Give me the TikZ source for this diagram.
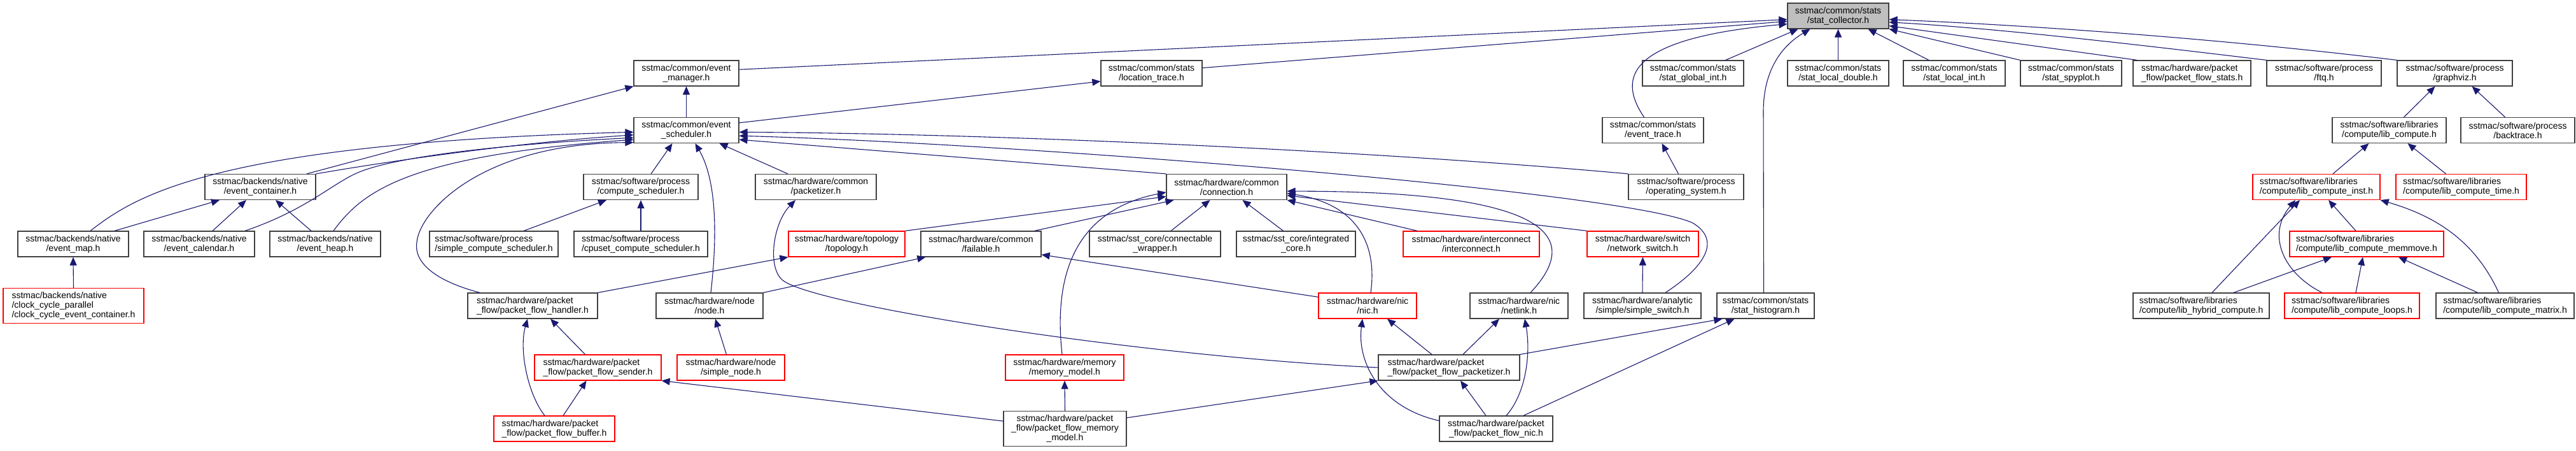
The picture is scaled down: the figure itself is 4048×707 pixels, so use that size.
\documentclass[tikz,border=0pt]{standalone}
\usepackage{fontspec}
\setmainfont{Liberation Sans}
\usetikzlibrary{arrows.meta, calc}
\definecolor{inkline}{HTML}{191970}
\definecolor{boxrule}{HTML}{404040}
\definecolor{boxred}{HTML}{FF0000}
\definecolor{boxgray}{HTML}{BFBFBF}
\tikzset{
  box/.style={
    draw=boxrule, line width=1.2pt, fill=white, inner sep=0pt,
    minimum height=40pt, align=center, text=black,
    font=\fontsize{14}{15}\selectfont,
  },
  boxl/.style={box, align=left},
  boxr/.style={box, draw=boxred},
  boxrl/.style={boxr, align=left},
  boxg/.style={box, fill=boxgray},
  %
  incl/.style={draw=inkline, line width=1.1pt, -{Triangle[length=13pt, width=11pt]}},
}
\begin{document}
\begin{tikzpicture}[x=1pt, y=-1pt]

  \path[use as bounding box, fill=white] (0,0) rectangle (4048,707);

  \def\rA{25}     % root
  \def\rB{115}
  \def\rC{204.5}
  \def\rD{293.5}
  \def\rE{383}
  \def\rF{480}
  \def\rG{577}
  \def\rH{673}

  % --- rows 0 to 2 --------------------------------------------------------
  \node[boxg, minimum width=159pt] (sc) at (2888.5,\rA) {sstmac/common/stats\\/stat\_collector.h};

  \node[box,  minimum width=165pt] (evmgr)    at (1078.5,\rB) {sstmac/common/event\\\_manager.h};
  \node[box,  minimum width=159pt] (loctrace) at (1809.5,\rB) {sstmac/common/stats\\/location\_trace.h};
  \node[box,  minimum width=159pt] (glint)    at (2660.5,\rB) {sstmac/common/stats\\/stat\_global\_int.h};
  \node[box,  minimum width=159pt] (locdbl)   at (2888.5,\rB) {sstmac/common/stats\\/stat\_local\_double.h};
  \node[box,  minimum width=160pt] (locint)   at (3071,\rB)   {sstmac/common/stats\\/stat\_local\_int.h};
  \node[box,  minimum width=159pt] (spyplot)  at (3254.5,\rB) {sstmac/common/stats\\/stat\_spyplot.h};
  \node[boxl, minimum width=185pt] (pfstats)  at (3444.5,\rB) {sstmac/hardware/packet\\\_flow/packet\_flow\_stats.h};
  \node[box,  minimum width=180pt] (ftq)      at (3652,\rB)   {sstmac/software/process\\/ftq.h};
  \node[box,  minimum width=181pt] (graphviz) at (3857.5,\rB) {sstmac/software/process\\/graphviz.h};

  \node[box, minimum width=165pt] (evsched)   at (1078.5,\rC) {sstmac/common/event\\\_scheduler.h};
  \node[box, minimum width=159pt] (evtrace)   at (2597.5,\rC) {sstmac/common/stats\\/event\_trace.h};
  \node[box, minimum width=179pt] (libcomp)   at (3754.5,\rC) {sstmac/software/libraries\\/compute/lib\_compute.h};
  \node[box, minimum width=179pt] (backtrace) at (3956.5,\rC) {sstmac/software/process\\/backtrace.h};

  % --- rows 3 and 4 -------------------------------------------------------
  \node[box,   minimum width=174pt] (evcont)     at (409,\rD)    {sstmac/backends/native\\/event\_container.h};
  \node[box,   minimum width=180pt] (compsched)  at (1007,\rD)   {sstmac/software/process\\/compute\_scheduler.h};
  \node[box,   minimum width=190pt] (packetizer) at (1282,\rD)   {sstmac/hardware/common\\/packetizer.h};
  \node[box,   minimum width=189pt] (conn)       at (1927.5,\rD) {sstmac/hardware/common\\/connection.h};
  \node[box,   minimum width=181pt] (opsys)      at (2649.5,\rD) {sstmac/software/process\\/operating\_system.h};
  \node[boxrl, minimum width=200pt] (lcinst)     at (3640,\rD)   {sstmac/software/libraries\\/compute/lib\_compute\_inst.h};
  \node[boxrl, minimum width=205pt] (lctime)     at (3867.5,\rD) {sstmac/software/libraries\\/compute/lib\_compute\_time.h};

  \node[box,   minimum width=174pt] (evmap)     at (115,\rE)    {sstmac/backends/native\\/event\_map.h};
  \node[box,   minimum width=174pt] (evcal)     at (313,\rE)    {sstmac/backends/native\\/event\_calendar.h};
  \node[box,   minimum width=174pt] (evheap)    at (511,\rE)    {sstmac/backends/native\\/event\_heap.h};
  \node[boxl,  minimum width=202pt] (simplecs)  at (776,\rE)    {sstmac/software/process\\/simple\_compute\_scheduler.h};
  \node[boxl,  minimum width=210pt] (cpuset)    at (1007,\rE)   {sstmac/software/process\\/cpuset\_compute\_scheduler.h};
  \node[boxr,  minimum width=183pt] (topology)  at (1330.5,\rE) {sstmac/hardware/topology\\/topology.h};
  \node[box,   minimum width=189pt] (failable)  at (1541.5,\rE) {sstmac/hardware/common\\/failable.h};
  \node[box,   minimum width=206pt] (connwrap)  at (1815,\rE)   {sstmac/sst\_core/connectable\\\_wrapper.h};
  \node[box,   minimum width=187pt] (intcore)   at (2036.5,\rE) {sstmac/sst\_core/integrated\\\_core.h};
  \node[boxr,  minimum width=214pt] (intercon)  at (2312,\rE)   {sstmac/hardware/interconnect\\/interconnect.h};
  \node[boxr,  minimum width=175pt] (netswitch) at (2581.5,\rE) {sstmac/hardware/switch\\/network\_switch.h};
  \node[boxrl, minimum width=242pt] (memmove)   at (3719,\rE)   {sstmac/software/libraries\\/compute/lib\_compute\_memmove.h};

  % --- rows 5 to 7 --------------------------------------------------------
  \node[boxrl, minimum width=221pt, minimum height=55pt] (clockcyc) at (115.5,\rF)
    {sstmac/backends/native\\/clock\_cycle\_parallel\\/clock\_cycle\_event\_container.h};
  \node[boxl,  minimum width=204pt] (pfhandler)    at (837,\rF)    {sstmac/hardware/packet\\\_flow/packet\_flow\_handler.h};
  \node[box,   minimum width=168pt] (hwnode)       at (1115,\rF)   {sstmac/hardware/node\\/node.h};
  \node[boxr,  minimum width=154pt] (nic)          at (2149,\rF)   {sstmac/hardware/nic\\/nic.h};
  \node[box,   minimum width=154pt] (netlink)      at (2387,\rF)   {sstmac/hardware/nic\\/netlink.h};
  \node[box,   minimum width=184pt] (simpleswitch) at (2581,\rF)   {sstmac/hardware/analytic\\/simple/simple\_switch.h};
  \node[box,   minimum width=153pt] (histogram)    at (2774.5,\rF) {sstmac/common/stats\\/stat\_histogram.h};
  \node[boxl,  minimum width=214pt] (hybrid)       at (3459,\rF)   {sstmac/software/libraries\\/compute/lib\_hybrid\_compute.h};
  \node[boxrl, minimum width=212pt] (loops)        at (3696,\rF)   {sstmac/software/libraries\\/compute/lib\_compute\_loops.h};
  \node[boxl,  minimum width=217pt] (matrix)       at (3936.5,\rF) {sstmac/software/libraries\\/compute/lib\_compute\_matrix.h};

  \node[boxrl, minimum width=199pt] (pfsender)     at (939.5,\rG)  {sstmac/hardware/packet\\\_flow/packet\_flow\_sender.h};
  \node[boxr,  minimum width=169pt] (simplenode)   at (1148.5,\rG) {sstmac/hardware/node\\/simple\_node.h};
  \node[boxr,  minimum width=186pt] (memmodel)     at (1673,\rG)   {sstmac/hardware/memory\\/memory\_model.h};
  \node[boxl,  minimum width=222pt] (pfpacketizer) at (2277,\rG)   {sstmac/hardware/packet\\\_flow/packet\_flow\_packetizer.h};

  \node[boxrl, minimum width=190pt] (pfbuffer) at (871,\rH) {sstmac/hardware/packet\\\_flow/packet\_flow\_buffer.h};
  \node[box,   minimum width=193pt, minimum height=55pt] (pfmemmodel) at (1673.5,\rH)
    {sstmac/hardware/packet\\\_flow/packet\_flow\_memory\\\_model.h};
  \node[box,   minimum width=178pt] (pfnic) at (2351,\rH) {sstmac/hardware/packet\\\_flow/packet\_flow\_nic.h};

  % --- into stat_collector ------------------------------------------------
  \draw[incl] (evmgr.4) -- (sc.184);
  \draw[incl] (loctrace.6) -- (sc.186);
  \draw[incl] ([xshift=-14pt]evtrace.north) .. controls (2540,120) and (2560,60) .. (sc.189);
  \draw[incl] ([xshift=51pt]glint.north) -- ([xshift=-63pt]sc.south);
  \draw[incl] ([xshift=-3pt]histogram.north) -- (2771,175)
    .. controls (2771,110) and (2800,72) .. ([xshift=-44pt]sc.south);
  \draw[incl] (locdbl.north) -- (sc.south);
  \draw[incl] ([xshift=-40pt]locint.north) -- ([xshift=47pt]sc.south);
  \draw[incl] (spyplot.north west) -- (sc.south east);
  \draw[incl] ([xshift=7pt]pfstats.north west) -- (sc.-11);
  \draw[incl] (ftq.north west) .. controls (3400,75) and (3150,45) .. (sc.-7);
  \draw[incl] (graphviz.north west) .. controls (3500,62) and (3200,40) .. (sc.-4);

  % --- event manager and scheduler ----------------------------------------
  \draw[incl] (evsched.north) -- (evmgr.south);
  \draw[incl] ([xshift=73pt]evcont.north) -- (evmgr.south west);
  \draw[incl] (evsched.8) -- (loctrace.189);

  \draw[incl] ([xshift=27pt]evmap.north) .. controls (210,310) and (330,225) .. (evsched.182);
  \draw[incl] (evcont.north east) .. controls (600,255) and (800,225) .. (evsched.185);
  \draw[incl] ([xshift=72pt]evcal.north) .. controls (480,330) and (520,290) .. (560,272)
    .. controls (620,245) and (800,226) .. (evsched.188);
  \draw[incl] ([xshift=13pt]evheap.north) .. controls (570,300) and (640,245) .. (evsched.190);
  \draw[incl] ([xshift=-83pt]pfhandler.north) .. controls (680,440) and (650,410) .. (655,380)
    .. controls (660,330) and (760,225) .. (evsched.193);
  \draw[incl] ([xshift=16pt]compsched.north) -- ([xshift=-22pt]evsched.south);
  \draw[incl] ([xshift=2pt]hwnode.north) .. controls (1125,390) and (1130,290) .. ([xshift=14pt]evsched.south);
  \draw[incl] ([xshift=-44pt]packetizer.north) -- ([xshift=52pt]evsched.south);
  \draw[incl] (conn.north west) -- (evsched.-10);
  \draw[incl] (opsys.north west) .. controls (2200,240) and (1600,210) .. (evsched.-2);
  \draw[incl] ([xshift=36pt]simpleswitch.north) .. controls (2670,425) and (2710,380) .. (2660,350)
    .. controls (2550,300) and (1600,225) .. (evsched.-6);

  % --- native backends ----------------------------------------------------
  \draw[incl] ([xshift=65pt]evmap.north) -- ([xshift=-64pt]evcont.south);
  \draw[incl] ([xshift=21pt]evcal.north) -- ([xshift=-22pt]evcont.south);
  \draw[incl] ([xshift=-22pt]evheap.north) -- ([xshift=24pt]evcont.south);
  \draw[incl] (clockcyc.north) -- (evmap.south);

  \draw[incl] ([xshift=47pt]simplecs.north) -- ([xshift=-54pt]compsched.south);
  \draw[incl] (cpuset.north) -- (compsched.south);

  % --- hardware -----------------------------------------------------------
  \draw[incl] (pfpacketizer.west) .. controls (1800,560) and (1280,480) .. (1230,440)
    .. controls (1205,420) and (1215,350) .. ([xshift=-32pt]packetizer.south);
  \draw[incl] (pfhandler.north east) -- (topology.south west);

  \draw[incl] (topology.north east) -- (conn.189);
  \draw[incl] ([xshift=84pt]failable.north) -- ([xshift=-83pt]conn.south);
  \draw[incl] ([xshift=25pt]connwrap.north) -- ([xshift=-26pt]conn.south);
  \draw[incl] ([xshift=-20pt]intcore.north) -- ([xshift=25pt]conn.south);
  \draw[incl] ([xshift=-4pt]memmodel.north) .. controls (1655,430) and (1690,330) .. (conn.185);
  \draw[incl] ([xshift=-85pt]intercon.north) -- (conn.south east);
  \draw[incl] (netswitch.north west) -- (conn.-8);
  \draw[incl] ([xshift=5pt]nic.north) .. controls (2165,380) and (2130,320) .. (conn.-6);
  \draw[incl] ([xshift=18pt]netlink.north) .. controls (2480,380) and (2460,300) .. (conn.-4);

  \draw[incl] (hwnode.north east) -- ([xshift=8pt]failable.south west);
  \draw[incl] (nic.170) -- (failable.-10);
  \draw[incl] ([xshift=-7pt]simplenode.north) -- ([xshift=9pt]hwnode.south);
  \draw[incl] (simpleswitch.north) -- (netswitch.south);

  \draw[incl] ([xshift=-27pt]pfpacketizer.north) -- ([xshift=31pt]nic.south);
  \draw[incl] (pfnic.172) .. controls (2170,640) and (2132,570) .. ([xshift=-8pt]nic.south);
  \draw[incl] ([xshift=22pt]pfpacketizer.north) -- ([xshift=-31pt]netlink.south);
  \draw[incl] ([xshift=16pt]pfnic.north) .. controls (2400,615) and (2405,550) .. ([xshift=9pt]netlink.south);

  \draw[incl] ([xshift=-16pt]pfnic.north) -- ([xshift=18pt]pfpacketizer.south);
  \draw[incl] (pfmemmodel.10) -- (pfpacketizer.south west);
  \draw[incl] (pfpacketizer.north east) -- ([xshift=9pt]histogram.south west);
  \draw[incl] ([xshift=43pt]pfnic.north) -- ([xshift=-49pt]histogram.south);

  \draw[incl] (pfmemmodel.north) -- (memmodel.south);
  \draw[incl] (pfmemmodel.173.5) -- (pfsender.south east);
  \draw[incl] ([xshift=-20pt]pfsender.north) -- ([xshift=28pt]pfhandler.south);
  \draw[incl] ([xshift=-15pt]pfbuffer.north) .. controls (830,620) and (815,550) .. ([xshift=-8pt]pfhandler.south);
  \draw[incl] ([xshift=14pt]pfbuffer.north) -- ([xshift=-18pt]pfsender.south);

  % --- software -----------------------------------------------------------
  \draw[incl] ([xshift=-12pt]opsys.north) -- ([xshift=14pt]evtrace.south);

  \draw[incl] ([xshift=23pt]libcomp.north) -- ([xshift=-31pt]graphviz.south);
  \draw[incl] ([xshift=-20pt]backtrace.north) -- ([xshift=27pt]graphviz.south);
  \draw[incl] ([xshift=26pt]lcinst.north) -- ([xshift=-32pt]libcomp.south);
  \draw[incl] ([xshift=-24pt]lctime.north) -- ([xshift=29pt]libcomp.south);

  \draw[incl] ([xshift=17pt]hybrid.north) -- ([xshift=-26pt]lcinst.south);
  \draw[incl] ([xshift=-47pt]loops.north) .. controls (3590,430) and (3560,370) .. ([xshift=-33pt]lcinst.south);
  \draw[incl] ([xshift=-17pt]memmove.north) -- ([xshift=19pt]lcinst.south);
  \draw[incl] ([xshift=-10pt]matrix.north) .. controls (3890,380) and (3830,340) .. (lcinst.south east);
  \draw[incl] ([xshift=51pt]hybrid.north) -- ([xshift=-55pt]memmove.south);
  \draw[incl] ([xshift=6pt]loops.north) -- ([xshift=-6pt]memmove.south);
  \draw[incl] ([xshift=-43pt]matrix.north) -- ([xshift=50pt]memmove.south);

\end{tikzpicture}
\end{document}
